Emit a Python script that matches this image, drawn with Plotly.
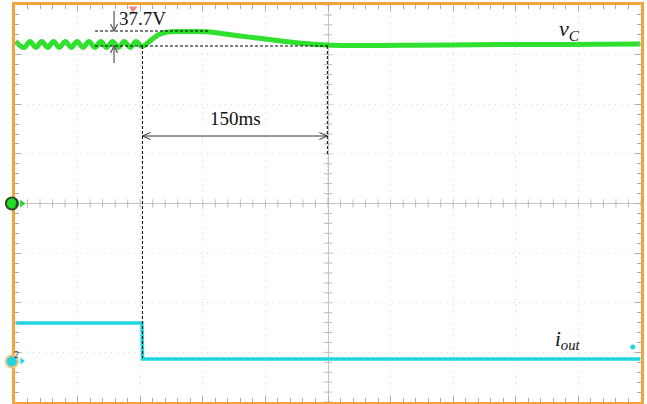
import plotly.graph_objects as go

# ---- data (time in ms, 50 ms/div; amplitude in divisions) ----
vc_t = [-249.5, -242.8, -238.1, -233.4, -228.7, -224.0, -219.2, -214.5, -209.8, -205.1,
        -200.4, -195.7, -191.0, -186.3, -181.5, -176.8, -172.1, -167.4, -162.7, -158.0,
        -153.3, -148.6, -142.2, -135.8, -130.2, -120.6, -106.2, -94.2, -82.3, -70.3,
        -56.7, -43.9, -30.4, -18.4, -0.8, 17.6, 57.5, 97.4, 137.4, 177.3, 217.2, 249.5]
vc_v = [3.264, 3.144, 3.264, 3.144, 3.264, 3.144, 3.264, 3.144, 3.264, 3.144,
        3.264, 3.144, 3.264, 3.144, 3.264, 3.144, 3.264, 3.144, 3.264, 3.144,
        3.264, 3.164, 3.275, 3.395, 3.446, 3.466, 3.466, 3.456, 3.416, 3.375,
        3.335, 3.295, 3.254, 3.224, 3.194, 3.184, 3.188, 3.194, 3.202, 3.204, 3.208, 3.214]

io_t = [-249.5, -148.6, -148.1, 249.5]
io_v = [-2.408, -2.408, -3.134, -3.134]

step_t = -148.2          # load step instant
vc_high = 3.476          # upper cursor
vc_low = 3.174           # lower cursor
delta_label = "37.7V"
time_label = "150ms"

GREEN = "#2fe02f"
CYAN = "#1fd6e0"
ORANGE = "#f2a33a"
GRID = "#d6d6d6"

fig = go.Figure()

# centre crosshair minor ticks
xt = [i * 10 for i in range(-25, 26)]
yt = [i * 0.2 for i in range(-20, 21)]
fig.add_trace(go.Scatter(x=xt, y=[0] * len(xt), mode="markers",
                         marker=dict(symbol="line-ns", size=6, line=dict(color="#bdbdbd", width=1)),
                         hoverinfo="skip", showlegend=False))
fig.add_trace(go.Scatter(x=[0] * len(yt), y=yt, mode="markers",
                         marker=dict(symbol="line-ew", size=6, line=dict(color="#bdbdbd", width=1)),
                         hoverinfo="skip", showlegend=False))

# waveforms
fig.add_trace(go.Scatter(x=vc_t, y=vc_v, mode="lines", line=dict(color=GREEN, width=5, shape="spline", smoothing=1.0),
                         showlegend=False, hoverinfo="skip"))
fig.add_trace(go.Scatter(x=io_t, y=io_v, mode="lines", line=dict(color=CYAN, width=3.5),
                         showlegend=False, hoverinfo="skip"))

# channel marker arrows and trigger markers
fig.add_trace(go.Scatter(x=[-244.5], y=[0.0], mode="markers", cliponaxis=False,
                         marker=dict(symbol="triangle-right", size=7, color="#22dd22"),
                         showlegend=False, hoverinfo="skip"))
fig.add_trace(go.Scatter(x=[-244.5], y=[-3.174], mode="markers", cliponaxis=False,
                         marker=dict(symbol="triangle-right", size=6, color=CYAN),
                         showlegend=False, hoverinfo="skip"))
fig.add_trace(go.Scatter(x=[-155.7], y=[3.93], mode="markers", cliponaxis=False,
                         marker=dict(symbol="triangle-down", size=8, color="#f08a8a"),
                         showlegend=False, hoverinfo="skip"))
fig.add_trace(go.Scatter(x=[243.5], y=[-2.892], mode="markers", cliponaxis=False,
                         marker=dict(symbol="circle", size=5, color=CYAN),
                         showlegend=False, hoverinfo="skip"))

dash = dict(color="black", width=1, dash="3px,2px")
arr = dict(color="#333333", width=1)
shapes = [
    # green dotted part of centre vertical
    dict(type="line", x0=0, x1=0, y0=0, y1=0.977, line=dict(color="#9ccc70", width=1, dash="2px,2px")),
    # cursors
    dict(type="line", x0=-186.1, x1=-94.2, y0=vc_high, y1=vc_high, line=dash),
    dict(type="line", x0=-186.1, x1=0, y0=vc_low, y1=vc_low, line=dash),
    dict(type="line", x0=step_t, x1=step_t, y0=vc_low, y1=-3.113, line=dash),
    dict(type="line", x0=-0.5, x1=-0.5, y0=vc_low, y1=0.977, line=dash),
    # 150 ms double arrow
    dict(type="line", x0=step_t, x1=-0.5, y0=1.36, y1=1.36, line=arr),
    dict(type="path", path=f"M {step_t+6.4},1.43 L {step_t},1.36 L {step_t+6.4},1.29", line=arr),
    dict(type="path", path="M -6.9,1.43 L -0.5,1.36 L -6.9,1.29", line=arr),
    # 37.7 V arrows
    dict(type="line", x0=-170.9, x1=-170.9, y0=3.88, y1=vc_high, line=dict(color="#555", width=1.2)),
    dict(type="path", path=f"M -173.7,{vc_high+0.14} L -170.9,{vc_high} L -168.1,{vc_high+0.14}",
         line=dict(color="#555", width=1.2)),
    dict(type="line", x0=-170.9, x1=-170.9, y0=2.83, y1=vc_low, line=dict(color="#555", width=1.2)),
    dict(type="path", path=f"M -173.7,{vc_low-0.14} L -170.9,{vc_low} L -168.1,{vc_low-0.14}",
         line=dict(color="#555", width=1.2)),
    # channel ground circles (left of the frame)
    dict(type="circle", xref="paper", yref="paper", xsizemode="pixel", ysizemode="pixel", layer="above",
         xanchor=-0.005, yanchor=0.5, x0=-6, x1=6, y0=-6, y1=6,
         fillcolor="#22dd22", line=dict(color="#2c4a2c", width=2)),
    dict(type="circle", xref="paper", yref="paper", xsizemode="pixel", ysizemode="pixel", layer="above",
         xanchor=-0.005, yanchor=0.102, x0=-6, x1=6, y0=-6, y1=6,
         fillcolor=CYAN, line=dict(color="#f5c080", width=2)),
]

ser = "Liberation Serif"
ann = [
    dict(x=(step_t + 0) / 2, y=1.72, text=time_label, showarrow=False,
         font=dict(family=ser, size=19, color="#111")),
    dict(x=-168.5, y=3.72, text=delta_label, showarrow=False, xanchor="left",
         font=dict(family=ser, size=19, color="#111")),
    dict(x=192.5, y=3.50, text="<i>v<sub>C</sub></i>", showarrow=False,
         font=dict(family=ser, size=22, color="#111")),
    dict(x=191.5, y=-2.75, text="<i>i<sub>out</sub></i>", showarrow=False,
         font=dict(family=ser, size=21, color="#111")),
    dict(x=-0.005, y=0.5, xref="paper", yref="paper", text="1", showarrow=False,
         font=dict(family="DejaVu Sans", size=8, color="#114411")),
    dict(x=-0.005, y=0.102, xref="paper", yref="paper", text="2", showarrow=False,
         font=dict(family="DejaVu Sans", size=8, color="#115555")),
]

axis_common = dict(showline=True, linecolor=ORANGE, linewidth=2.5, mirror="allticks",
                   ticks="inside", ticklen=6, tickcolor="#aaaaaa", tickwidth=1,
                   showticklabels=False, showgrid=True, gridcolor=GRID, griddash="1px,5px", gridwidth=1,
                   zeroline=True, zerolinecolor="#c4c4c4", zerolinewidth=1, fixedrange=True)

fig.update_layout(
    width=647, height=404,
    margin=dict(l=15, r=6, t=5, b=2),
    paper_bgcolor="white", plot_bgcolor="white",
    xaxis=dict(range=[-250, 250], dtick=50, tick0=0,
               minor=dict(dtick=10, ticks="inside", ticklen=4, tickcolor="#aaaaaa", showgrid=False),
               **axis_common),
    yaxis=dict(range=[-4, 4], dtick=1, tick0=0,
               minor=dict(dtick=0.2, ticks="inside", ticklen=4, tickcolor="#aaaaaa", showgrid=False),
               **axis_common),
    shapes=shapes, annotations=ann,
)

fig.write_html("out.html", config={"displayModeBar": False},
               post_script="document.body.style.margin='0';")
